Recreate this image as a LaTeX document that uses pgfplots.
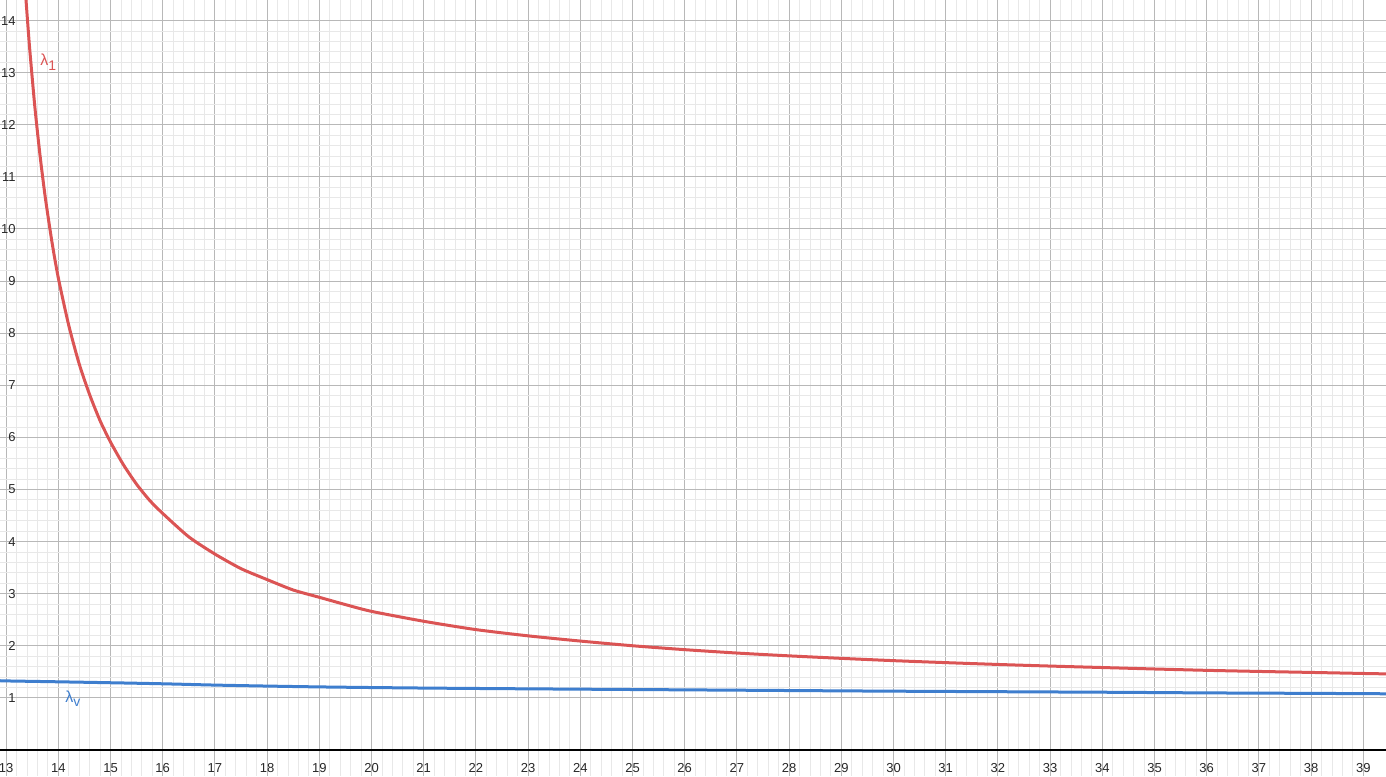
\documentclass[border=0pt]{standalone}
\usepackage{fontspec}
\setmainfont{Liberation Sans}
\usepackage{pgfplots}
\pgfplotsset{compat=1.18}
\definecolor{ggred}{RGB}{219,84,84}
\definecolor{ggblue}{RGB}{62,126,206}
\definecolor{ticktext}{RGB}{40,40,40}

\begin{document}
\begin{tikzpicture}
\begin{axis}[
    name=ax,
    width=693pt, height=388pt, scale only axis,
    xmin=12.883, xmax=39.435,
    ymin=-0.5, ymax=14.395,
    axis x line=middle,
    axis y line=left,
    x axis line style={-, black, line width=0.6pt},
    y axis line style={draw=none},
    xtick={13,...,39},
    ytick={1,...,14},
    minor x tick num=4,
    minor y tick num=4,
    grid=both,
    major grid style={draw={rgb,255:red,184;green,184;blue,184}, line width=0.5pt},
    minor grid style={draw={rgb,255:red,232;green,232;blue,232}, line width=0.4pt},
    tick style={draw=none},
    /pgf/number format/assume math mode=true,
    ticklabel style={font=\fontsize{6.5}{7}\selectfont, text=ticktext},
    xticklabel style={anchor=north, yshift=-1pt},
    yticklabel style={anchor=east, xshift=13.5pt},
    clip=true,
]

% lambda_1
\addplot[ggred, line width=1.5pt, smooth, tension=0.4] coordinates {
    (13.38,14.41) (13.45,13.48) (13.55,12.35) (13.65,11.41) (13.75,10.61)
    (13.875,9.77) (14,9.06) (14.2,8.15) (14.4,7.41) (14.6,6.82) (14.8,6.32)
    (15,5.91) (15.25,5.47) (15.5,5.10) (15.75,4.79) (16,4.54) (16.5,4.09)
    (17,3.76) (17.5,3.48) (18,3.27) (18.5,3.07) (19,2.93) (19.5,2.79)
    (20,2.66) (21,2.47) (22,2.31) (23,2.19) (24,2.09) (25,2.00)
    (26,1.925) (27,1.86) (28,1.806) (29,1.758) (30,1.714) (31,1.676)
    (32,1.641) (33,1.61) (34,1.582) (35,1.554) (36,1.528) (37,1.507)
    (38,1.488) (39,1.468) (39.44,1.46)
};

% lambda_v
\addplot[ggblue, line width=1.5pt, smooth] coordinates {
    (12.88,1.33) (13,1.325) (14,1.308) (15,1.29) (16,1.27) (17,1.245)
    (18,1.226) (19,1.21) (20,1.198) (21,1.188) (22,1.18) (23,1.173)
    (25,1.16) (27,1.147) (30,1.128) (34,1.108) (36,1.095) (38,1.086)
    (39.44,1.078)
};

\node[anchor=north west, inner sep=0pt, text=ggred, font=\fontsize{8}{9}\selectfont]
    at (axis cs:13.649,13.36) {λ\raisebox{-0.5ex}{\fontsize{7}{8}\selectfont 1}};
\node[anchor=north west, inner sep=0pt, text=ggblue, font=\fontsize{8}{9}\selectfont]
    at (axis cs:14.128,1.15) {λ\raisebox{-0.5ex}{\fontsize{7}{8}\selectfont v}};

\end{axis}
\pgfresetboundingbox
\path[use as bounding box] (ax.south west) rectangle (ax.north east);
\end{tikzpicture}
\end{document}
